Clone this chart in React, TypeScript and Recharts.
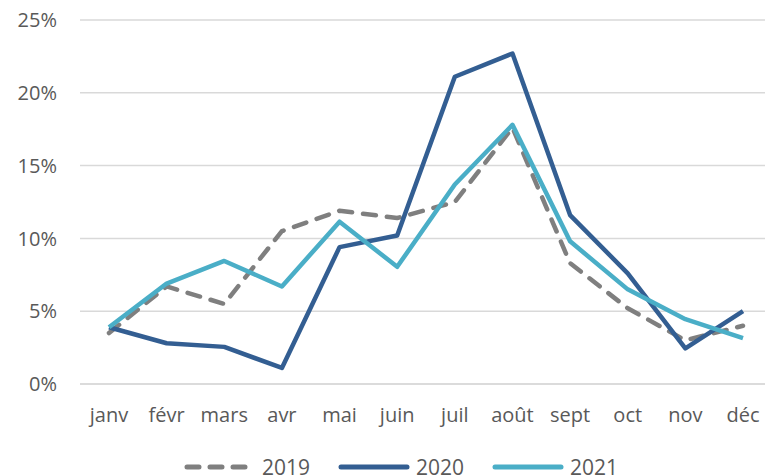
import * as React from "react";
import { LineChart, Line, XAxis, YAxis, CartesianGrid, Legend } from "recharts";

const months = ["janv", "févr", "mars", "avr", "mai", "juin", "juil", "août", "sept", "oct", "nov", "déc"];
const y2019 = [3.5, 6.7, 5.5, 10.5, 11.9, 11.4, 12.5, 17.6, 8.3, 5.2, 3.0, 4.0];
const y2020 = [3.9, 2.8, 2.55, 1.1, 9.4, 10.2, 21.1, 22.7, 11.6, 7.6, 2.45, 5.0];
const y2021 = [3.9, 6.9, 8.45, 6.7, 11.15, 8.05, 13.7, 17.8, 9.8, 6.5, 4.45, 3.15];
const yTicks = [0, 5, 10, 15, 20, 25];

const series = [
  { key: "2019", color: "#7f7f7f", dash: "13 11" },
  { key: "2020", color: "#335e92", dash: undefined },
  { key: "2021", color: "#4aaec7", dash: undefined },
];

const data = months.map((m, i) => ({ month: m, "2019": y2019[i], "2020": y2020[i], "2021": y2021[i] }));

const font = "'Open Sans', sans-serif";

function LegendContent() {
  return (
    <div style={{ height: 26, display: "flex", alignItems: "center", justifyContent: "center", paddingLeft: 58, fontFamily: font, fontSize: 21, color: "#595959" }}>
      {series.map((s) => (
        <div key={s.key} style={{ display: "flex", alignItems: "center", marginRight: 28 }}>
          <svg width={72} height={10} style={{ marginRight: 6 }}>
            <line x1={3} y1={5} x2={69} y2={5} stroke={s.color} strokeWidth={5} strokeLinecap="round" strokeDasharray={s.dash ? "12 11" : undefined} />
          </svg>
          <span>{s.key}</span>
        </div>
      ))}
    </div>
  );
}

export default function App() {
  return (
    <div style={{ position: "fixed", left: 0, top: 0, width: 765, height: 476, overflow: "hidden", background: "#fff" }}>
      <LineChart width={780} height={490} data={data} margin={{ top: 20, right: 8, left: 0, bottom: 10 }} style={{ fontFamily: font }}>
        <CartesianGrid vertical={false} stroke="#d9d9d9" strokeWidth={1.5} />
        <XAxis
          dataKey="month"
          height={70}
          padding={{ left: 29, right: 29 }}
          tickLine={false}
          tickSize={0}
          tickMargin={24}
          axisLine={{ stroke: "#d9d9d9", strokeWidth: 1.5 }}
          tick={{ fill: "#595959", fontSize: 20 }}
          interval={0}
        />
        <YAxis
          width={80}
          domain={[0, 25]}
          ticks={yTicks}
          tickFormatter={(v) => `${v}%`}
          axisLine={false}
          tickLine={false}
          tickSize={0}
          tickMargin={23}
          tick={{ fill: "#595959", fontSize: 20 }}
        />
        <Legend verticalAlign="bottom" height={26} content={() => <LegendContent />} />
        {series.map((s) => (
          <Line
            key={s.key}
            dataKey={s.key}
            stroke={s.color}
            strokeWidth={4.5}
            strokeDasharray={s.dash}
            strokeLinecap={s.dash ? "round" : "butt"}
            strokeLinejoin="round"
            dot={false}
            isAnimationActive={false}
          />
        ))}
      </LineChart>
    </div>
  );
}
